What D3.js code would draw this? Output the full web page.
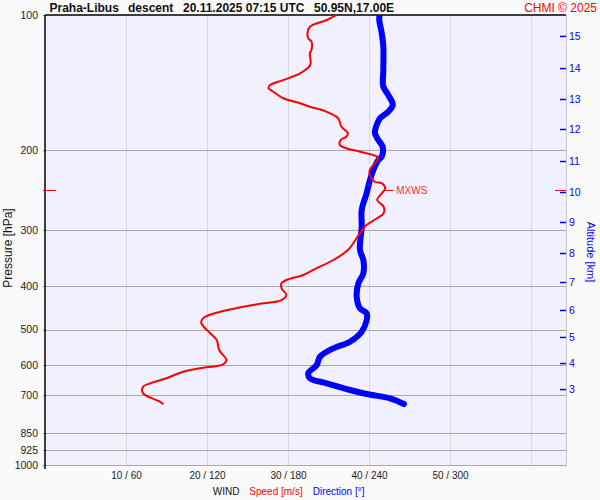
<!DOCTYPE html>
<html>
<head>
<meta charset="utf-8">
<script src="https://cdn.jsdelivr.net/npm/d3@7"></script>
<style>
  html, body { margin: 0; padding: 0; background: #fafafa; }
  svg { display: block; font-family: "Liberation Sans", Arial, sans-serif; }
</style>
</head>
<body>
<svg id="chart" width="600" height="500"></svg>
<script>
// ---- data ----
const titleParts = ["Praha-Libus", "descent", "20.11.2025 07:15 UTC", "50.95N,17.00E"];
const pressureTicks = [100, 200, 300, 400, 500, 600, 700, 850, 925, 1000];
const speedTicks = [10, 20, 30, 40, 50];
const speedGrid = [10, 20, 30, 40, 50, 60];
const altKm = [3, 4, 5, 6, 7, 8, 9, 10, 11, 12, 13, 14, 15];
const altP = [678.0, 593.5, 519.4, 452.4, 392.1, 338.0, 288.4, 247.4, 211.1, 179.2, 153.7, 131.2, 111.3];

// wind speed profile [m/s] vs pressure [hPa]
const speedP = [100, 102.6, 106.2, 109.8, 112.7, 114.6, 119.6, 121.7, 128.0, 130.3, 134.8, 139.5, 143.1, 145.5, 148.1,
  153.1, 157.1, 159.9, 162.6, 165.4, 169.7, 177.1, 183.2, 186.4, 189.6, 194.5, 197.8, 201.3, 206.5, 208.9,
  221.0, 226.8, 234.7, 236.6, 242.7, 251.2, 257.7, 266.7, 275.8, 283.0, 292.9, 305.1, 332.8, 350.3, 365.5,
  378.3, 388.1, 394.7, 404.9, 419.0, 429.9, 437.2, 446.2, 458.7, 472.1, 484.3, 509.7, 527.5, 555.2, 584.4,
  597.4, 609.7, 623.6, 641.7, 658.4, 669.9, 692.9, 708.7, 723.4, 733.0];
const speedV = [36.0, 34.8, 32.7, 32.4, 32.5, 32.9, 32.9, 32.7, 32.8, 32.6, 31.5, 29.4, 27.8, 27.6, 28.2,
  29.4, 31.5, 32.7, 34.2, 35.2, 36.2, 36.6, 37.4, 37.2, 36.5, 36.4, 37.2, 38.9, 41.0, 41.1,
  40.1, 40.1, 40.7, 41.6, 42.0, 41.4, 41.0, 41.8, 41.8, 41.0, 39.7, 38.9, 37.4, 35.6, 33.5,
  31.9, 29.8, 29.2, 29.2, 29.8, 29.2, 27.0, 24.1, 21.2, 19.5, 19.3, 20.4, 21.2, 21.5, 22.4,
  22.0, 19.1, 16.7, 15.0, 13.0, 12.1, 12.1, 13.0, 14.2, 14.6];

// wind direction profile [deg] vs pressure [hPa]
const dirP = [100, 102.6, 109.6, 117.6, 132.5, 144.3, 150.6, 158.5, 164.0, 169.7, 177.1, 183.2, 189.6, 196.2,
  206.5, 210.0, 221.0, 232.6, 248.6, 271.2, 295.4, 332.8, 350.3, 375.0, 394.7, 422.7, 448.5, 460.2, 476.2,
  505.6, 532.1, 550.4, 574.6, 599.5, 625.5, 641.7, 658.4, 681.3, 695.4, 710.9, 731.9];
const dirV = [247.8, 247.6, 249.4, 250.6, 250.6, 250.6, 254.3, 257.6, 254.3, 248.1, 245.2, 244.4, 246.9, 250.1,
  249.4, 246.9, 243.2, 240.7, 238.3, 234.6, 234.6, 233.3, 235.8, 235.8, 232.1, 230.9, 233.3, 238.3, 238.3,
  234.6, 225.9, 213.6, 203.7, 201.3, 195.0, 196.3, 208.7, 225.9, 238.3, 255.6, 265.9];

const mxwsP = [245];
const mxwsSpeed = [42];

// ---- layout ----
const L = 45, R = 566, T = 15, B = 465;
const svg = d3.select("#chart");
svg.append("rect").attr("width", 600).attr("height", 500).attr("fill", "#fafafa");

const y = d3.scaleLog().domain([100, 1000]).range([T, B]);
const xs = d3.scaleLinear().domain([0, 64.32]).range([L, R]);
const xd = d3.scaleLinear().domain([0, 64.32 * 6]).range([L, R]);

svg.append("rect").attr("x", L).attr("y", T).attr("width", R - L).attr("height", B - T).attr("fill", "#f0f0fe");

// vertical grid
svg.append("g").selectAll("line").data(speedGrid).join("line")
  .attr("x1", d => xs(d)).attr("x2", d => xs(d)).attr("y1", T).attr("y2", B)
  .attr("stroke", "#d8d8d8").attr("stroke-width", 1).attr("shape-rendering", "crispEdges");

// horizontal grid
svg.append("g").selectAll("line").data(pressureTicks.filter(d => d > 100)).join("line")
  .attr("x1", L).attr("x2", R).attr("y1", d => Math.round(y(d)) + 0.5).attr("y2", d => Math.round(y(d)) + 0.5)
  .attr("stroke", "#a8a8a8").attr("stroke-width", 1);

// right axis line
svg.append("line").attr("x1", R + 0.5).attr("x2", R + 0.5).attr("y1", T).attr("y2", B + 2)
  .attr("stroke", "#c8c8d0");

// bottom axis (wind)
const xAxis = d3.axisBottom(xs).tickValues(speedTicks).tickFormat(d => `${d} / ${d * 6}`).tickSize(0).tickPadding(7);
const gx = svg.append("g").attr("transform", `translate(0,${B})`).call(xAxis);
gx.select(".domain").remove();
gx.selectAll("text").attr("font-size", 10).attr("fill", "#222").attr("font-family", "Liberation Sans, Arial, sans-serif");

// left axis (pressure)
const yAxis = d3.axisLeft(y).tickValues(pressureTicks).tickFormat(d3.format("d")).tickSize(2).tickPadding(5);
const gy = svg.append("g").attr("transform", `translate(${L},0)`).call(yAxis);
gy.select(".domain").remove();
gy.selectAll(".tick line").attr("stroke", "#888");
gy.selectAll("text").attr("font-size", 10.5).attr("fill", "#222").attr("font-family", "Liberation Sans, Arial, sans-serif");

// right axis (altitude)
const aAxis = d3.axisRight(y).tickValues(altP).tickFormat((d, i) => altKm[i]).tickSize(-6).tickPadding(3);
const ga = svg.append("g").attr("transform", `translate(${R},0)`).call(aAxis);
ga.select(".domain").remove();
ga.selectAll(".tick line").attr("stroke", "#0000ff").attr("stroke-width", 1.5);
ga.selectAll("text").attr("font-size", 10.5).attr("fill", "#0000ff").attr("font-family", "Liberation Sans, Arial, sans-serif");

// frame lines
svg.append("line").attr("x1", L).attr("x2", R).attr("y1", T).attr("y2", T).attr("stroke", "#000").attr("stroke-width", 1.5);
svg.append("line").attr("x1", L).attr("x2", L).attr("y1", T).attr("y2", B + 4).attr("stroke", "#000").attr("stroke-width", 1.5);

// clip
svg.append("clipPath").attr("id", "plotclip").append("rect")
  .attr("x", L).attr("y", T).attr("width", R - L).attr("height", B - T);

// direction line
const dirData = dirP.map((p, i) => [p, dirV[i]]);
svg.append("path").datum(dirData).attr("clip-path", "url(#plotclip)")
  .attr("d", d3.line().x(d => xd(d[1])).y(d => y(d[0])).curve(d3.curveCatmullRom))
  .attr("fill", "none").attr("stroke", "#0000ff").attr("stroke-width", 6)
  .attr("stroke-linecap", "round").attr("stroke-linejoin", "round");

// speed line
const spData = speedP.map((p, i) => [p, speedV[i]]);
svg.append("path").datum(spData).attr("clip-path", "url(#plotclip)")
  .attr("d", d3.line().x(d => xs(d[1])).y(d => y(d[0])).curve(d3.curveCatmullRom))
  .attr("fill", "none").attr("stroke", "#ff0000").attr("stroke-width", 2)
  .attr("stroke-linejoin", "round");

// MXWS marker
mxwsP.forEach((p, i) => {
  const yy = Math.round(y(p)) + 0.5;
  svg.append("line").attr("x1", L - 2).attr("x2", L + 11).attr("y1", yy).attr("y2", yy).attr("stroke", "#ff0000");
  svg.append("line").attr("x1", R - 11).attr("x2", R).attr("y1", yy).attr("y2", yy).attr("stroke", "#ff0000");
  svg.append("line").attr("x1", xs(mxwsSpeed[i])).attr("x2", xs(mxwsSpeed[i]) + 8).attr("y1", yy).attr("y2", yy).attr("stroke", "#ff0000");
  svg.append("text").attr("x", xs(mxwsSpeed[i]) + 11).attr("y", yy + 3.5).attr("font-size", 10).attr("fill", "#ff3030").text("MXWS");
});

// title
const titleX = [49.5, 128, 183, 314];
svg.append("g").selectAll("text").data(titleParts).join("text")
  .attr("x", (d, i) => titleX[i]).attr("y", 12).attr("font-size", 12).attr("font-weight", "bold").attr("fill", "#111")
  .text(d => d);
svg.append("text").attr("x", 597).attr("y", 12).attr("text-anchor", "end").attr("font-size", 12).attr("fill", "#ff0000").text("CHMI © 2025");

// axis titles
svg.append("text").attr("transform", "translate(11.5,248) rotate(-90)").attr("text-anchor", "middle")
  .attr("font-size", 12).attr("fill", "#111").text("Pressure [hPa]");
svg.append("text").attr("transform", "translate(586.5,252) rotate(90)").attr("text-anchor", "middle")
  .attr("font-size", 11).attr("fill", "#0000ff").text("Altitude [km]");

svg.append("text").attr("x", 212.7).attr("y", 495).attr("font-size", 10).attr("fill", "#111").text("WIND");
svg.append("text").attr("x", 249.3).attr("y", 495).attr("font-size", 10).attr("fill", "#ff0000").text("Speed [m/s]");
svg.append("text").attr("x", 312.7).attr("y", 495).attr("font-size", 10).attr("fill", "#0000ff").text("Direction [°]");
</script>
</body>
</html>
